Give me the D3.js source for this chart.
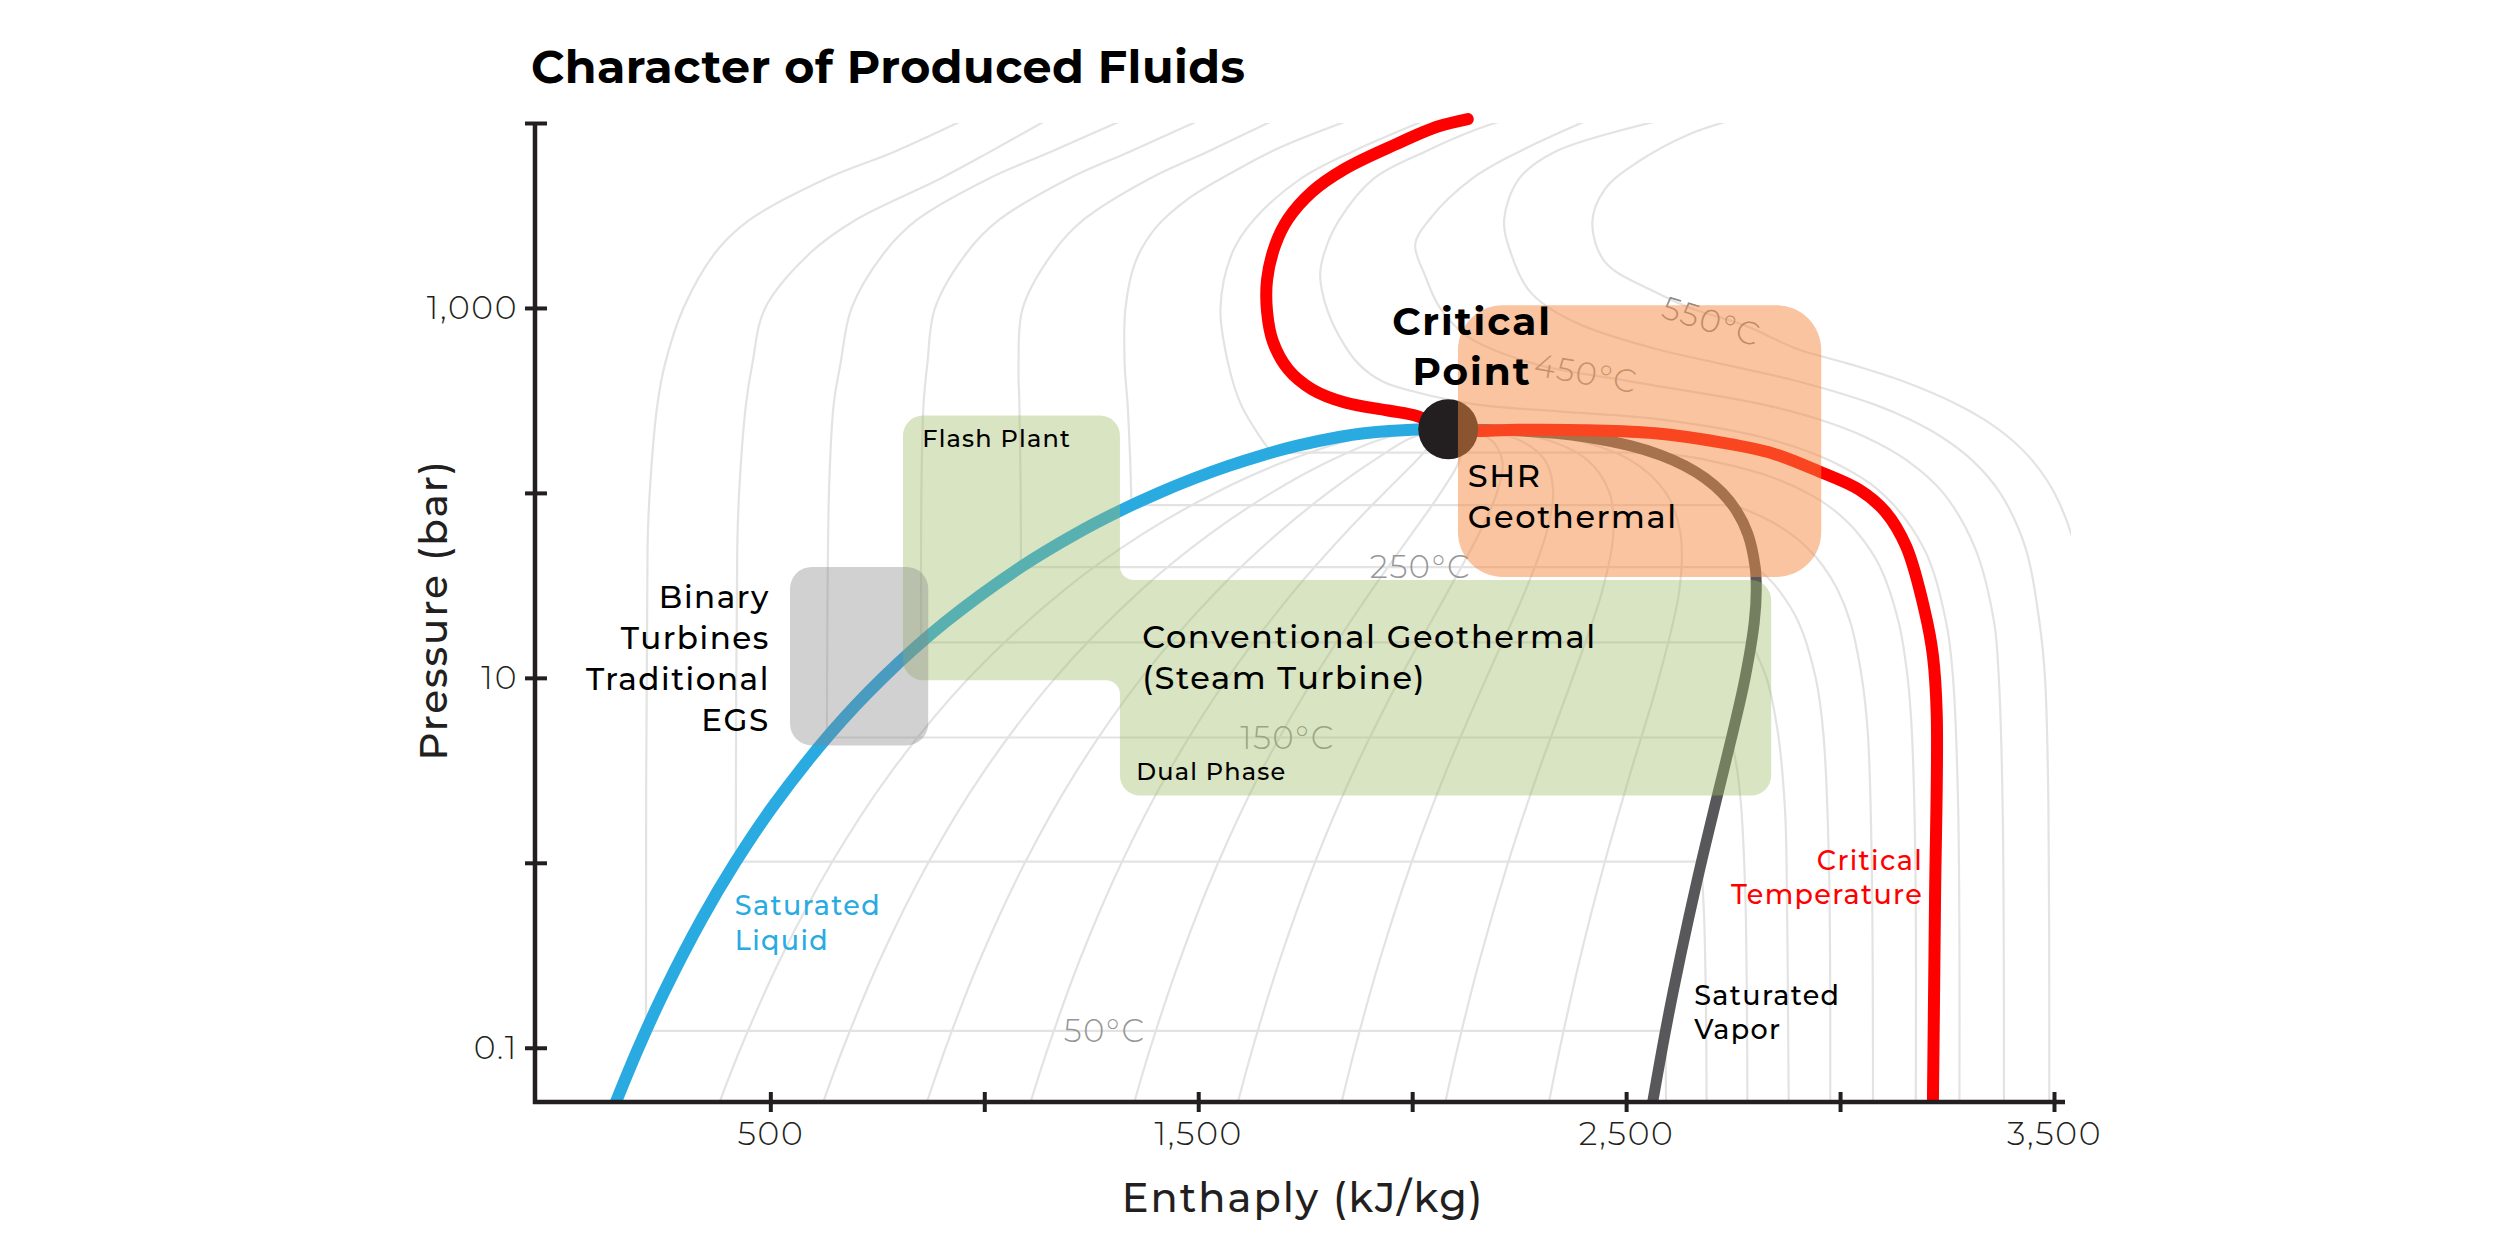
<!DOCTYPE html>
<html>
<head>
<meta charset="utf-8">
<script src="https://cdn.jsdelivr.net/npm/d3@7"></script>
<style>
  body { margin: 0; background: #fff; }
  text { font-family: Montserrat, Inter, "Noto Sans", sans-serif; letter-spacing: 0.05em; }
</style>
</head>
<body>
<div id="chart"></div>
<script>
// ---- data: [enthalpy kJ/kg, pressure bar] ----
var satLiquid = [[2084.3,220.64],[2011,220],[1888,210],[1826.3,200],[1732,180],[1650.1,160],[1571.1,140],[1491.3,120],[1407.6,100],[1316.6,80],[1213.4,60],[1087.3,40],[908.8,20],[762.8,10],[640.2,5],[504.7,2],[417.5,1],[340.5,0.5],[251.4,0.2],[191.8,0.1],[137.8,0.05]];
var satVapor = [[2084.3,220.64],[2173,220],[2334.5,210],[2409.7,200],[2509.1,180],[2580.6,160],[2637.6,140],[2684.9,120],[2724.7,100],[2758,80],[2784.3,60],[2801.4,40],[2804.2,30],[2799.5,20],[2778.1,10],[2748.7,5],[2706.7,2],[2675.5,1],[2646,0.5],[2609.7,0.2],[2584.7,0.1],[2561.5,0.05]];
var criticalPoint = [2084.3, 220.64];
var criticalIsotherm = [[2130,10500],[2060,9570],[1960,7640],[1843,5660],[1766,4250],[1710,3030],[1680,2190],[1661,1430],[1661,948],[1675,653],[1710,466],[1766,363],[1843,308],[1944,279],[2014,259],[2084.3,220.64],[2250,219.5],[2411,218],[2568,210],[2724,187],[2841,164],[2950,131],[3045,104],[3106,79],[3155,51],[3199,22.4],[3217,13.2],[3226,6.3],[3222,0.64],[3217,0.05]];

// sub-critical isotherms: compressed liquid branch and vapour branch
var isoTemps = [50, 100, 150, 200, 250, 300, 350];
var isoLiquid = [
  [[956,10500],[790,7000],[630,5000],[452,3000],[372,2000],[297,1000],[254,500],[236,300],[218,100],[213,50],[209.3,0.1235]],
  [[1150,10500],[1014,7000],[897,5000],[700,3000],[595,2000],[488,1000],[458,500],[443,300],[427,100],[422.7,50],[419.1,1.014]],
  [[1329,10500],[1156,7000],[1010,5000],[843,3000],[767,2000],[690,1000],[664,500],[648,300],[637,100],[632.2,4.76]],
  [[1509,10500],[1340,7000],[1197,5000],[1035,3000],[960,2000],[885,1000],[867,500],[858,300],[853,100],[852.4,15.55]],
  [[1682,10500],[1522,7000],[1386,5000],[1232,3000],[1161,2000],[1090,1000],[1080,500],[1082,300],[1085,100],[1085.8,39.7]],
  [[1860,10500],[1687,7300],[1579,5400],[1477,3900],[1400,2700],[1353,1770],[1330,1000],[1328,500],[1335,300],[1341,150],[1344,85.9]],
  [[2037,10500],[1860,7000],[1740,5000],[1630,3000],[1580,2000],[1552,1000],[1570,500],[1600,300],[1645,200],[1670.9,165.3]]
];
var isoVapor = [
  [[2591.3,0.1235],[2592.5,0.08],[2593.4,0.05]],
  [[2675.6,1.014],[2682.4,0.5],[2686.2,0.2],[2687.5,0.1],[2688,0.05]],
  [[2745.9,4.76],[2761,3],[2769,2],[2776,1],[2780,0.5],[2783,0.1],[2783.3,0.05]],
  [[2792,15.55],[2828,10],[2855,5],[2871,2],[2875,1],[2879,0.1],[2880,0.05]],
  [[2801,39.7],[2830,35],[2856,30],[2903,20],[2943,10],[2961,5],[2974,1],[2977,0.05]],
  [[2749,85.9],[2786,80],[2839,70],[2885,60],[2925,50],[2961,40],[2994,30],[3024,20],[3051,10],[3065,5],[3074,1],[3077,0.05]],
  [[2563,165.3],[2620,160],[2692,150],[2826,125],[2923,100],[2988,80],[3043,60],[3093,40],[3137,20],[3158,10],[3168,5],[3176,1],[3177,0.05]]
];

// super-critical isotherms
var superTemps = [400, 450, 500, 550];
var superIsotherms = [
  [[2224,10500],[2154,9300],[2030,7000],[1910,5000],[1830,3000],[1795,2000],[1785,1500],[1800,1000],[1830,700],[1874,500],[1931,400],[2010,350],[2152,300],[2350,275],[2578,250],[2818,200],[2975,150],[3097,100],[3196,50],[3248,20],[3264,10],[3276,2],[3279,0.05]],
  [[2416,10500],[2250,7000],[2140,5000],[2040,3000],[2007,2200],[2030,1500],[2065,1000],[2130,700],[2284,500],[2513,400],[2821,300],[2950,250],[3060,200],[3156,150],[3241,100],[3316,50],[3360,20],[3371,10],[3380,2],[3383,0.05]],
  [[2593,10500],[2334,7000],[2250,5000],[2215,3000],[2230,2000],[2271,1260],[2320,1000],[2400,800],[2570,600],[2720,500],[2903,400],[3081,300],[3162,250],[3238,200],[3309,150],[3374,100],[3434,50],[3466,20],[3479,10],[3487,2],[3489,0.05]],
  [[2755,10500],[2645,8650],[2528,6170],[2451,4400],[2421,2900],[2451,1770],[2568,1220],[2650,1000],[2780,800],[2900,600],[3019,500],[3149,400],[3275,300],[3336,250],[3394,200],[3449,150],[3501,100],[3550,50],[3575,20],[3586,10],[3594,2],[3596,0.05]]
];

// constant quality lines x = 0.1 ... 0.9
var qualities = [0.1, 0.2, 0.3, 0.4, 0.5, 0.6, 0.7, 0.8, 0.9];
var qualityPressures = [0.05, 0.1, 0.3, 1, 3, 10, 30, 60, 100, 150, 200, 220.64];
var qualityEnthalpy = [
  [380.2, 431.1, 522.8, 643.3, 777.9, 964.3, 1188, 1370.5, 1539.3, 1710.5, 1884.6, 2084.3],
  [622.5, 670.4, 756.4, 869.1, 994.3, 1165.9, 1367.6, 1527.6, 1671, 1810.5, 1943, 2084.3],
  [864.9, 909.7, 990, 1094.9, 1210.6, 1367.4, 1547.1, 1684.7, 1802.7, 1910.5, 2001.3, 2084.3],
  [1107.3, 1149, 1223.6, 1320.7, 1427, 1568.9, 1726.7, 1841.8, 1934.4, 2010.5, 2059.7, 2084.3],
  [1349.7, 1388.3, 1457.3, 1546.5, 1643.4, 1770.5, 1906.3, 1998.9, 2066.2, 2110.5, 2118, 2084.3],
  [1592, 1627.5, 1690.9, 1772.3, 1859.8, 1972, 2085.9, 2155.9, 2197.9, 2210.5, 2176.3, 2084.3],
  [1834.4, 1866.8, 1924.5, 1998.1, 2076.2, 2173.5, 2265.5, 2313, 2329.6, 2310.5, 2234.7, 2084.3],
  [2076.8, 2106.1, 2158.1, 2223.9, 2292.5, 2375, 2445, 2470.1, 2461.3, 2410.5, 2293, 2084.3],
  [2319.1, 2345.4, 2391.7, 2449.7, 2508.9, 2576.6, 2624.6, 2627.2, 2593, 2510.5, 2351.4, 2084.3]
];

// application regions [hMin, hMax, pMin, pMax]
var shrBox = [2107, 2956, 35.1, 1035];
var flashBox = [810, 1317, 9.71, 262];
var conventionalBox = [1317, 2839, 2.31, 33.8];
var binaryBox = [546, 869, 4.31, 39.8];

var tempLabels = ["50°C", "150°C", "250°C", "450°C", "550°C"];
var xTicks = [500, 1000, 1500, 2000, 2500, 3000, 3500];
var xTickLabels = ["500", "", "1,500", "", "2,500", "", "3,500"];
var yTicks = [10000, 1000, 100, 10, 1, 0.1];
var yTickLabels = ["", "1,000", "", "10", "", "0.1"];

// ---- chart ----
var svgWidth = 2500;
var svgHeight = 1250;

var margin = { top: 123, right: 446, bottom: 148, left: 535 };
var width = svgWidth - margin.left - margin.right;
var height = svgHeight - margin.top - margin.bottom;

var axisColor = "#231f20";
var gridColor = "#e3e3e3";

var svg = d3.select("#chart")
    .append("svg")
    .attr("width", svgWidth)
    .attr("height", svgHeight);

var chartGroup = svg.append("g")
    .attr("transform", `translate(${margin.left},${margin.top})`);

var xLinearScale = d3.scaleLinear()
    .domain([-50, 3500])
    .range([0, width]);

var yLogScale = d3.scaleLog()
    .domain([0.0509, 10000])
    .range([height, 0]);

var smooth = d3.line()
    .x(d => xLinearScale(d[0]))
    .y(d => yLogScale(d[1]))
    .curve(d3.curveCatmullRom.alpha(0.5));

var straight = d3.line()
    .x(d => xLinearScale(d[0]))
    .y(d => yLogScale(d[1]));

chartGroup.append("clipPath")
    .attr("id", "gridClip")
    .append("rect")
    .attr("x", 0)
    .attr("y", 0)
    .attr("width", xLinearScale(3540))
    .attr("height", height);

chartGroup.append("clipPath")
    .attr("id", "curveClip")
    .append("rect")
    .attr("x", 0)
    .attr("y", -14)
    .attr("width", xLinearScale(3540))
    .attr("height", height + 14);

// background grid of isotherms + quality lines
var grid = chartGroup.append("g")
    .attr("clip-path", "url(#gridClip)")
    .attr("fill", "none")
    .attr("stroke", gridColor)
    .attr("stroke-width", 2.2);

qualities.forEach(function(q, i) {
    var pts = qualityPressures.map((p, j) => [qualityEnthalpy[i][j], p]);
    grid.append("path").attr("d", smooth(pts));
});

isoTemps.forEach(function(t, i) {
    var liq = isoLiquid[i];
    var vap = isoVapor[i];
    grid.append("path").attr("d", smooth(liq));
    grid.append("path").attr("d", straight([liq[liq.length - 1], vap[0]]));
    grid.append("path").attr("d", smooth(vap));
});

superTemps.forEach(function(t, i) {
    grid.append("path").attr("d", smooth(superIsotherms[i]));
});

// isotherm labels
var tempGroup = chartGroup.append("g")
    .attr("fill", "#969696")
    .style("font-size", "32px")
    .style("font-weight", 300);

tempGroup.append("text").attr("x", xLinearScale(1186)).attr("y", yLogScale(0.1235)).attr("dy", "0.35em").text(tempLabels[0]);
tempGroup.append("text").attr("x", xLinearScale(1598)).attr("y", yLogScale(4.76)).attr("dy", "0.35em").text(tempLabels[1]);
tempGroup.append("text").attr("x", xLinearScale(1901)).attr("y", yLogScale(39.7)).attr("dy", "0.35em").text(tempLabels[2]);
tempGroup.append("text")
    .attr("transform", `translate(${xLinearScale(2282)},${yLogScale(432)}) rotate(10)`)
    .text(tempLabels[3]);
tempGroup.append("text")
    .attr("transform", `translate(${xLinearScale(2579)},${yLogScale(891)}) rotate(17)`)
    .attr("fill", "#8a8a8a")
    .text(tempLabels[4]);

// main curves
var curves = chartGroup.append("g")
    .attr("clip-path", "url(#curveClip)")
    .attr("fill", "none")
    .attr("stroke-linecap", "round");

curves.append("path")
    .attr("d", smooth(satVapor))
    .attr("stroke", "#58585a")
    .attr("stroke-width", 11);

curves.append("path")
    .attr("d", smooth(satLiquid))
    .attr("stroke", "#29abe2")
    .attr("stroke-width", 12);

curves.append("path")
    .attr("d", smooth(criticalIsotherm))
    .attr("stroke", "#ff0000")
    .attr("stroke-width", 12);

chartGroup.append("circle")
    .attr("cx", xLinearScale(criticalPoint[0]))
    .attr("cy", yLogScale(criticalPoint[1]))
    .attr("r", 30)
    .attr("fill", "#231f20");

// application regions (translucent, on top of curves)
function stepPath(a, b, r, c) {
    var xL = xLinearScale(a[0]), xM = xLinearScale(a[1]), xR = xLinearScale(b[1]);
    var yT = yLogScale(a[3]), y1 = yLogScale(b[3]), y2 = yLogScale(a[2]), yB = yLogScale(b[2]);
    return ["M", xL + r, yT,
        "H", xM - r, "A", r, r, 0, 0, 1, xM, yT + r,
        "V", y1 - c, "A", c, c, 0, 0, 0, xM + c, y1,
        "H", xR - r, "A", r, r, 0, 0, 1, xR, y1 + r,
        "V", yB - r, "A", r, r, 0, 0, 1, xR - r, yB,
        "H", xM + r, "A", r, r, 0, 0, 1, xM, yB - r,
        "V", y2 + c, "A", c, c, 0, 0, 0, xM - c, y2,
        "H", xL + r, "A", r, r, 0, 0, 1, xL, y2 - r,
        "V", yT + r, "A", r, r, 0, 0, 1, xL + r, yT, "Z"].join(" ");
}

chartGroup.append("path")
    .attr("d", stepPath(flashBox, conventionalBox, 20, 14))
    .attr("fill", "#a0bc67")
    .attr("fill-opacity", 0.4);

function boxRect(b, r, fill, op) {
    chartGroup.append("rect")
        .attr("x", xLinearScale(b[0]))
        .attr("y", yLogScale(b[3]))
        .attr("width", xLinearScale(b[1]) - xLinearScale(b[0]))
        .attr("height", yLogScale(b[2]) - yLogScale(b[3]))
        .attr("rx", r)
        .attr("fill", fill)
        .attr("fill-opacity", op);
}
boxRect(shrBox, 45, "#f48a40", 0.5);
boxRect(binaryBox, 22, "#828284", 0.37);

// annotations
function label(lines, h, ps, opts) {
    var t = chartGroup.append("g")
        .attr("fill", opts.color || "#000")
        .style("font-size", opts.size + "px")
        .style("font-weight", opts.weight || 500)
        .attr("text-anchor", opts.anchor || "start");
    if (opts.spacing) t.style("letter-spacing", opts.spacing);
    lines.forEach(function(s, i) {
        t.append("text")
            .attr("x", xLinearScale(h))
            .attr("y", yLogScale(ps[i]))
            .text(s);
    });
}

label(["Critical", "Point"], 2140, [710, 385], { size: 39, weight: 700, anchor: "middle", spacing: "0.03em" });
label(["SHR", "Geothermal"], 2130, [107, 64.7], { size: 32 });
label(["Flash Plant"], 855, [176], { size: 24 });
label(["Conventional Geothermal", "(Steam Turbine)"], 1369, [14.45, 8.67], { size: 32 });
label(["Dual Phase"], 1355, [2.79], { size: 24 });
label(["Binary", "Turbines", "Traditional", "EGS"], 499, [23.8, 14.3, 8.57, 5.14], { size: 31, anchor: "end" });
label(["Saturated", "Liquid"], 417, [0.521, 0.337], { size: 27, color: "#29abe2" });
label(["Saturated", "Vapor"], 2659, [0.170, 0.111], { size: 27 });
label(["Critical", "Temperature"], 3194, [0.915, 0.598], { size: 27, color: "#ff0000", anchor: "end" });

// axes
var xAxis = d3.axisBottom(xLinearScale)
    .tickValues(xTicks)
    .tickSizeOuter(0)
    .tickFormat((d, i) => xTickLabels[i]);

var yAxis = d3.axisLeft(yLogScale)
    .tickValues(yTicks)
    .tickSizeOuter(0)
    .tickFormat((d, i) => yTickLabels[i]);

var gx = chartGroup.append("g")
    .attr("transform", `translate(0, ${height})`)
    .call(xAxis);

var gy = chartGroup.append("g")
    .call(yAxis);

[gx, gy].forEach(function(g) {
    g.select(".domain").remove();
    g.selectAll(".tick line").attr("stroke", axisColor).attr("stroke-width", 4);
    g.selectAll(".tick text")
        .attr("fill", axisColor)
        .style("font-family", "Montserrat, Inter, sans-serif")
        .style("font-size", "33px")
        .style("font-weight", 300);
});

gx.selectAll(".tick line").attr("y1", -10).attr("y2", 10);
gx.selectAll(".tick text").attr("y", 43).attr("dy", null);
gy.selectAll(".tick line").attr("x1", 12).attr("x2", -10);
gy.selectAll(".tick text").attr("x", -17);

chartGroup.append("line")
    .attr("x1", -2).attr("x2", xLinearScale(3500) + 11)
    .attr("y1", height).attr("y2", height)
    .attr("stroke", axisColor)
    .attr("stroke-width", 4.5);

chartGroup.append("line")
    .attr("x1", 0).attr("x2", 0)
    .attr("y1", 0).attr("y2", height + 2)
    .attr("stroke", axisColor)
    .attr("stroke-width", 4.5);

// titles
svg.append("text")
    .attr("x", 531)
    .attr("y", 83)
    .style("font-size", "46px")
    .style("font-weight", 700)
    .style("letter-spacing", "0.01em")
    .attr("fill", "#000")
    .text("Character of Produced Fluids");

svg.append("text")
    .attr("transform", "translate(447, 610) rotate(-90)")
    .attr("text-anchor", "middle")
    .style("font-size", "39px")
    .style("font-weight", 500)
    .attr("fill", axisColor)
    .text("Pressure (bar)");

svg.append("text")
    .attr("x", 1303)
    .attr("y", 1212)
    .attr("text-anchor", "middle")
    .style("font-size", "40px")
    .style("font-weight", 500)
    .attr("fill", axisColor)
    .text("Enthaply (kJ/kg)");
</script>
</body>
</html>
